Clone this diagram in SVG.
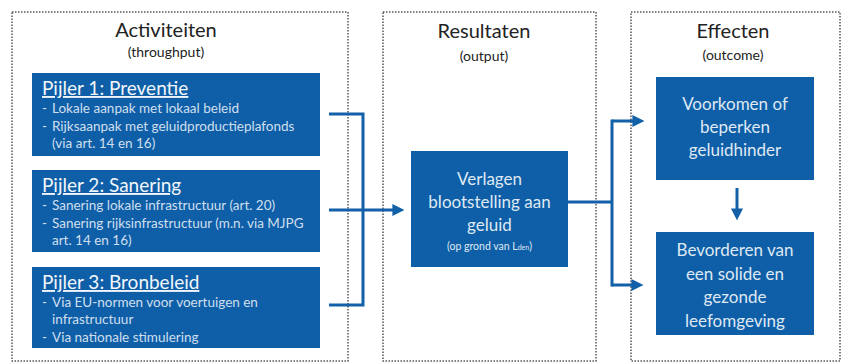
<svg xmlns="http://www.w3.org/2000/svg" width="844" height="363" viewBox="0 0 844 363">
<defs>
<style>
.panel{fill:none;stroke:#555;stroke-width:1.5;stroke-dasharray:1.5 1.5}
.box{fill:#0f5fa8}
.h1{font-family:Lato,"Liberation Sans",sans-serif;font-size:20px;fill:#222;text-anchor:middle}
.h2{font-family:Lato,"Liberation Sans",sans-serif;font-size:14px;fill:#222;text-anchor:middle}
.pt{font-family:Lato,"Liberation Sans",sans-serif;font-size:19px;fill:#f2f6fa;text-decoration:underline}
.pl{font-family:Lato,"Liberation Sans",sans-serif;font-size:13.5px;fill:#d0dfee}
.bt{font-family:Lato,"Liberation Sans",sans-serif;font-size:17px;fill:#dfe9f3;text-anchor:middle}
.sm{font-family:Lato,"Liberation Sans",sans-serif;font-size:10.5px;fill:#dfe9f3;text-anchor:middle}
.con{fill:none;stroke:#1261a8;stroke-width:3}
</style>
<marker id="ah" markerWidth="4" markerHeight="4" refX="2.2" refY="2" orient="auto" markerUnits="strokeWidth">
<path d="M0,0 L4,2 L0,4 z" fill="#1261a8"/>
</marker>
</defs>
<rect width="844" height="363" fill="#fff"/>
<g id="panel-activiteiten">
<rect class="panel" x="12" y="12" width="336" height="349"/>
<text class="h1" x="166" y="37">Activiteiten</text>
<text class="h2" x="166" y="57">(throughput)</text>
</g>
<g id="panel-resultaten">
<rect class="panel" x="383" y="12" width="213" height="349"/>
<text class="h1" x="484" y="38">Resultaten</text>
<text class="h2" x="484" y="61">(output)</text>
</g>
<g id="panel-effecten">
<rect class="panel" x="631" y="12" width="209" height="349"/>
<text class="h1" x="733" y="38">Effecten</text>
<text class="h2" x="733" y="60">(outcome)</text>
</g>
<g id="pijler1">
<rect class="box" x="32" y="73" width="288" height="83"/>
<text class="pt" x="42" y="95">Pijler 1: Preventie</text>
<text class="pl" x="42" y="113">-</text><text class="pl" x="52" y="113">Lokale aanpak met lokaal beleid</text>
<text class="pl" x="42" y="131">-</text><text class="pl" x="52" y="131">Rijksaanpak met geluidproductieplafonds</text>
<text class="pl" x="52" y="148">(via art. 14 en 16)</text>
</g>
<g id="pijler2">
<rect class="box" x="32" y="170" width="288" height="82"/>
<text class="pt" x="42" y="192">Pijler 2: Sanering</text>
<text class="pl" x="42" y="210">-</text><text class="pl" x="52" y="210">Sanering lokale infrastructuur (art. 20)</text>
<text class="pl" x="42" y="228">-</text><text class="pl" x="52" y="228">Sanering rijksinfrastructuur (m.n. via MJPG</text>
<text class="pl" x="52" y="245">art. 14 en 16)</text>
</g>
<g id="pijler3">
<rect class="box" x="32" y="267" width="288" height="81"/>
<text class="pt" x="42" y="289">Pijler 3: Bronbeleid</text>
<text class="pl" x="42" y="307">-</text><text class="pl" x="52" y="307">Via EU-normen voor voertuigen en</text>
<text class="pl" x="52" y="324">infrastructuur</text>
<text class="pl" x="42" y="342">-</text><text class="pl" x="52" y="342">Via nationale stimulering</text>
</g>
<g id="verlagen">
<rect class="box" x="411" y="151" width="157" height="116"/>
<text class="bt" x="489.5" y="185">Verlagen</text>
<text class="bt" x="489.5" y="208">blootstelling aan</text>
<text class="bt" x="489.5" y="231">geluid</text>
<text class="sm" x="489.5" y="250">(op grond van L<tspan font-size="7px">den</tspan>)</text>
</g>
<g id="voorkomen">
<rect class="box" x="656" y="77" width="158" height="103"/>
<text class="bt" x="735" y="110">Voorkomen of</text>
<text class="bt" x="735" y="133">beperken</text>
<text class="bt" x="735" y="156">geluidhinder</text>
</g>
<g id="bevorderen">
<rect class="box" x="656" y="232" width="158" height="103"/>
<text class="bt" x="735" y="256">Bevorderen van</text>
<text class="bt" x="735" y="280">een solide en</text>
<text class="bt" x="735" y="303">gezonde</text>
<text class="bt" x="735" y="327">leefomgeving</text>
</g>
<g id="connectors">
<path class="con" d="M329,114 H363 M329,210 H363 M329,305 H363 M363,112.5 V306.5"/>
<path class="con" d="M363,210 H399" marker-end="url(#ah)"/>
<path class="con" d="M568,202 H612 M612,119.5 V286.5"/>
<path class="con" d="M612,121 H639" marker-end="url(#ah)"/>
<path class="con" d="M612,285 H638" marker-end="url(#ah)"/>
<path class="con" d="M737,188 V215" marker-end="url(#ah)"/>
</g>
</svg>
